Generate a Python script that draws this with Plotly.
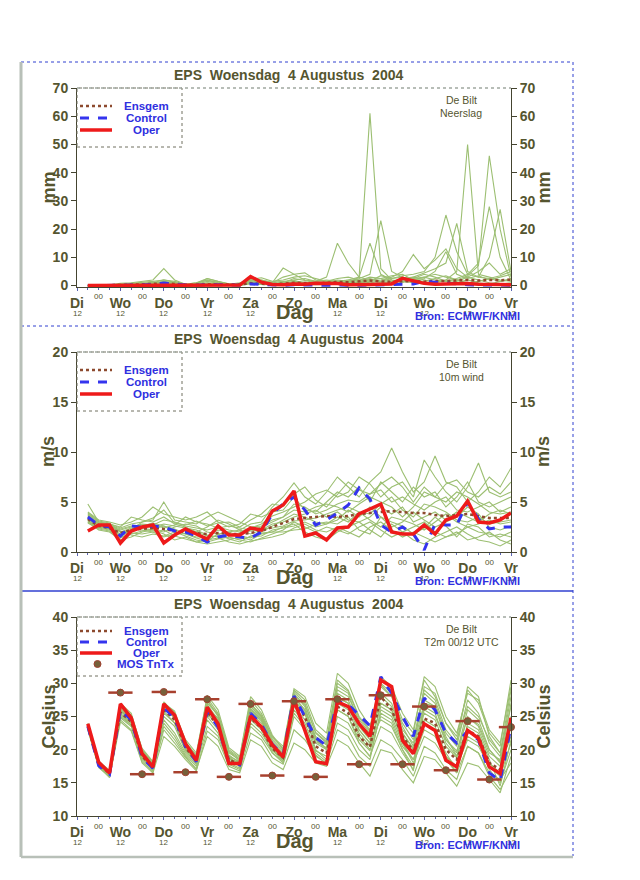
import plotly.graph_objects as go

# forecast steps: 6-hourly, Di 18 UTC .. Vr 12 UTC, x in days after Di 12 UTC
steps_h = list(range(6, 241, 6))
t = [h / 24 for h in steps_h]

day_names = ["Di", "Wo", "Do", "Vr", "Za", "Zo", "Ma", "Di", "Wo", "Do", "Vr"]

# ---------------- Neerslag (mm) ----------------
prec_ensgem = [0, 0, 0.1, 0.2, 0.3, 0.4, 0.5, 0.8, 0.6, 0.3, 0.3, 0.5, 0.4, 0.3, 0.4, 0.8,
               0.6, 0.5, 0.7, 1.0, 0.9, 0.8, 1.0, 1.3, 1.2, 1.5, 1.8, 1.5, 1.3, 1.5, 1.6, 1.4,
               1.7, 1.6, 1.8, 2.0, 1.8, 2.0, 1.9, 2.1]
prec_control = [0, 0, 0, 0, 0, 0.2, 0.4, 0.9, 0.6, 0.2, 0.1, 0.4, 0.3, 0.1, 0.1, 0.6,
                0.4, 0.2, 0.1, 0.3, 0.2, 0.1, 0.1, 0.2, 0.1, 0.1, 0.2, 0.3, 0.2, 0.5, 0.6, 1.5,
                1.2, 0.8, 0.5, 0.3, 0.2, 0.3, 0.2, 0.1]
prec_oper = [0, 0, 0, 0, 0, 0.1, 0.2, 0.3, 0.1, 0, 0.1, 0.3, 0.2, 0.1, 0.2, 3.2,
             1.2, 0.4, 0.3, 0.6, 0.5, 0.8, 0.9, 0.7, 0.3, 0.2, 0.4, 0.5, 0.6, 2.6, 1.8, 0.8,
             0.5, 0.6, 0.4, 0.7, 0.5, 0.3, 0.4, 0.3]
prec_members = [
    [0, 0, 0, 0, 0, 0.1, 0.3, 0.6, 0.3, 0, 0, 0.2, 0.1, 0, 0, 0.9, 0.6, 0.3, 0.5, 1.2,
     1.0, 1.5, 2.0, 1.5, 1.0, 3.0, 61.0, 6.0, 2.0, 1.5, 1.0, 0.6, 1.0, 2.0, 1.5, 3.0, 2.0, 1.0, 0.5, 1.0],
    [0, 0, 0, 0.2, 0.4, 0.3, 0.8, 1.5, 1.0, 0.2, 0.4, 1.0, 0.6, 0.2, 0.3, 2.0, 1.5, 0.8, 1.2, 2.0,
     2.5, 1.5, 1.0, 2.0, 1.5, 2.5, 4.0, 23.0, 5.0, 3.0, 2.0, 1.5, 2.5, 3.5, 2.0, 1.0, 1.5, 2.5, 1.5, 2.0],
    [0, 0, 0, 0, 0.2, 0.5, 1.0, 2.0, 1.2, 0.3, 0.8, 2.0, 1.0, 0.4, 0.5, 1.5, 2.0, 1.0, 3.0, 4.0,
     2.0, 1.5, 3.0, 15.0, 8.0, 3.0, 15.0, 4.0, 2.0, 1.0, 2.5, 4.0, 3.0, 1.5, 1.0, 2.0, 1.0, 0.5, 1.5, 2.5],
    [0, 0, 0.1, 0.3, 0.5, 0.8, 1.2, 1.0, 0.5, 0.2, 0.5, 1.5, 0.8, 0.3, 0.2, 1.0, 0.8, 0.5, 1.0, 2.5,
     1.8, 1.0, 0.8, 1.2, 2.0, 3.0, 2.0, 1.0, 1.5, 2.5, 3.0, 2.0, 1.0, 2.0, 5.0, 50.0, 4.0, 3.0, 2.0, 1.5],
    [0, 0, 0, 0.1, 0.2, 0.2, 0.5, 1.2, 0.8, 0.1, 0.2, 0.8, 0.5, 0.1, 0.1, 1.8, 1.0, 0.3, 0.6, 1.5,
     1.2, 0.6, 0.5, 1.0, 0.8, 1.2, 2.0, 2.5, 3.5, 4.0, 2.0, 3.0, 4.0, 3.0, 2.0, 3.5, 7.0, 46.0, 20.0, 3.0],
    [0, 0, 0, 0, 0.1, 0.3, 0.6, 0.8, 0.4, 0.1, 0.1, 0.6, 0.3, 0.2, 0.3, 1.2, 0.8, 0.4, 0.8, 1.0,
     0.6, 0.4, 0.6, 0.8, 1.0, 1.5, 1.0, 1.5, 2.5, 3.5, 4.0, 5.0, 10.0, 25.0, 12.0, 4.0, 8.0, 28.0, 10.0, 2.0],
    [0, 0, 0.2, 0.5, 0.8, 1.0, 1.5, 2.0, 1.5, 0.5, 1.0, 1.8, 1.2, 0.6, 0.8, 2.5, 2.0, 1.2, 1.5, 1.8,
     1.0, 0.8, 1.2, 1.5, 2.0, 1.8, 3.0, 2.5, 1.5, 2.0, 3.0, 4.5, 6.0, 8.0, 22.0, 5.0, 3.0, 10.0, 27.0, 5.0],
    [0, 0, 0, 0, 0, 0.1, 0.2, 0.4, 0.2, 0, 0.1, 0.4, 0.2, 0.1, 0.1, 0.6, 0.4, 0.2, 0.3, 0.6,
     0.5, 0.3, 0.4, 0.6, 0.8, 1.0, 1.5, 2.0, 3.0, 5.0, 11.0, 6.0, 9.0, 13.0, 6.0, 3.0, 5.0, 8.0, 4.0, 6.0],
    [0, 0, 0.3, 0.8, 1.0, 1.5, 2.0, 6.0, 2.0, 0.5, 1.0, 2.5, 1.5, 0.5, 1.0, 2.0, 1.5, 1.0, 6.2, 4.0,
     4.5, 2.0, 1.5, 2.5, 3.0, 2.0, 1.5, 3.5, 2.5, 3.0, 2.0, 2.5, 5.0, 12.0, 4.0, 2.5, 3.5, 2.0, 3.0, 4.0],
    [0, 0, 0, 0.4, 0.6, 0.5, 0.8, 1.2, 0.8, 0.4, 0.6, 2.5, 1.5, 0.6, 0.8, 2.2, 2.8, 1.5, 2.0, 3.0,
     3.5, 2.5, 1.5, 1.0, 1.5, 2.0, 2.5, 1.5, 1.0, 1.5, 2.5, 3.0, 2.0, 1.5, 2.5, 4.0, 3.0, 2.5, 3.5, 5.0],
]

# ---------------- 10m wind (m/s) ----------------
wind_ensgem = [3.3, 2.6, 2.4, 1.9, 2.2, 2.3, 2.4, 2.3, 2.1, 2.0, 1.9, 1.8, 1.9, 1.8, 1.8, 1.9,
               2.1, 2.5, 2.9, 3.3, 3.4, 3.5, 3.6, 3.5, 3.6, 3.8, 3.9, 4.0, 4.1, 4.0, 3.9, 3.9,
               3.7, 3.6, 3.7, 3.8, 3.6, 3.4, 3.4, 3.4]
wind_control = [3.5, 2.7, 2.5, 1.6, 2.6, 2.5, 2.6, 2.5, 2.1, 2.0, 1.6, 1.0, 1.5, 1.7, 1.5, 1.4,
                2.0, 3.8, 4.8, 5.5, 4.2, 2.7, 3.2, 3.9, 4.7, 6.4, 5.3, 2.7, 2.0, 2.5, 1.8, 0.2,
                2.8, 2.7, 2.7, 5.0, 3.3, 2.3, 2.5, 2.5]
wind_oper = [2.1, 2.7, 2.7, 0.9, 2.1, 2.5, 2.7, 0.9, 1.7, 2.3, 1.8, 1.3, 2.6, 1.7, 1.7, 2.4,
             2.2, 4.1, 4.7, 6.1, 1.6, 1.9, 1.2, 2.4, 2.5, 3.8, 4.3, 4.8, 2.0, 1.8, 1.8, 2.7,
             1.8, 3.2, 3.6, 5.1, 3.0, 2.9, 3.2, 3.9]
wind_members = [
    [4.8, 3.0, 2.8, 2.5, 3.5, 3.2, 3.0, 3.5, 2.8, 2.5, 2.0, 2.5, 3.2, 2.8, 2.2, 2.8, 3.0, 4.5, 5.5, 6.9,
     5.5, 4.8, 6.0, 7.5, 6.5, 5.5, 7.0, 8.0, 10.4, 8.0, 6.0, 7.0, 9.6, 7.0, 6.5, 5.0, 6.0, 7.5, 6.5, 8.4],
    [3.0, 2.2, 2.0, 1.2, 1.5, 2.0, 2.2, 1.8, 1.2, 1.5, 1.0, 0.8, 1.0, 1.2, 1.5, 1.2, 1.8, 2.0, 2.5, 2.8,
     2.0, 1.5, 1.2, 2.0, 2.5, 3.0, 2.2, 1.5, 2.8, 2.0, 1.2, 0.8, 1.5, 2.0, 2.5, 1.8, 1.2, 1.0, 0.6, 1.2],
    [3.6, 2.8, 2.6, 2.2, 2.5, 2.8, 2.7, 3.2, 3.0, 2.6, 2.4, 2.2, 2.5, 2.2, 2.0, 2.4, 2.8, 3.6, 4.0, 4.5,
     5.0, 5.8, 6.2, 5.5, 6.0, 7.5, 6.8, 5.5, 6.5, 7.0, 5.5, 9.2, 7.5, 6.0, 5.0, 6.5, 8.9, 6.0, 5.5, 6.0],
    [3.2, 2.5, 2.3, 1.6, 2.0, 2.6, 2.9, 2.6, 2.3, 1.8, 1.5, 1.5, 1.6, 1.4, 1.3, 1.5, 1.6, 2.2, 2.4, 2.6,
     3.0, 2.5, 2.8, 3.5, 3.0, 4.0, 3.2, 2.5, 3.5, 3.2, 2.8, 2.2, 3.0, 3.8, 3.0, 2.5, 2.8, 3.2, 2.8, 3.0],
    [4.0, 3.2, 3.0, 2.7, 3.0, 3.5, 4.5, 3.8, 3.5, 3.2, 3.5, 4.0, 3.0, 2.5, 2.8, 3.8, 3.5, 4.0, 4.2, 5.5,
     4.2, 4.0, 5.0, 6.0, 5.5, 6.5, 5.0, 7.0, 6.0, 5.0, 6.5, 5.5, 6.0, 4.5, 5.5, 7.0, 5.0, 4.5, 5.0, 5.5],
    [3.4, 2.7, 2.4, 1.8, 2.3, 2.4, 2.2, 2.0, 2.5, 2.8, 2.6, 2.0, 1.8, 2.0, 1.6, 1.4, 2.0, 2.6, 3.2, 3.8,
     3.5, 3.0, 2.8, 3.2, 4.2, 3.5, 4.5, 3.5, 2.5, 3.0, 4.0, 3.2, 2.5, 3.0, 3.5, 4.5, 3.8, 2.5, 2.2, 2.6],
    [3.1, 2.4, 2.2, 1.5, 1.8, 2.1, 2.3, 2.6, 2.0, 1.6, 1.2, 1.0, 1.3, 1.5, 1.2, 1.0, 1.4, 1.8, 2.2, 3.0,
     2.5, 2.0, 2.5, 2.2, 1.8, 2.5, 3.0, 2.2, 1.5, 2.0, 2.5, 3.0, 2.0, 1.5, 1.8, 2.5, 2.0, 1.8, 1.5, 2.0],
    [3.8, 3.0, 2.8, 2.4, 2.8, 3.0, 3.2, 5.0, 3.2, 3.0, 2.8, 3.5, 4.0, 3.5, 3.0, 2.5, 2.6, 3.2, 3.5, 4.8,
     4.5, 3.8, 4.2, 4.8, 5.2, 5.0, 5.8, 6.2, 5.0, 5.5, 4.8, 4.2, 5.0, 5.5, 4.2, 4.0, 4.5, 5.0, 4.0, 4.5],
    [3.5, 2.8, 2.5, 2.0, 2.4, 2.2, 2.0, 1.5, 1.8, 2.2, 2.0, 1.6, 2.2, 2.0, 2.2, 1.8, 2.2, 2.8, 3.0, 3.5,
     3.8, 4.2, 3.5, 4.0, 3.2, 3.0, 3.5, 4.5, 3.8, 4.5, 3.0, 3.5, 4.0, 3.2, 4.0, 3.5, 3.0, 3.8, 4.2, 3.8],
    [3.3, 2.6, 2.3, 1.7, 2.1, 2.5, 2.5, 2.8, 2.6, 2.4, 2.2, 1.7, 1.5, 1.7, 1.9, 2.1, 2.3, 2.4, 2.6, 3.1,
     3.2, 3.4, 3.8, 4.2, 4.5, 4.0, 3.8, 4.8, 5.5, 4.2, 3.5, 4.8, 4.5, 4.0, 3.2, 3.0, 3.5, 2.8, 3.0, 3.2],
    [3.7, 2.9, 2.7, 2.3, 2.6, 2.7, 2.8, 2.4, 2.7, 3.5, 3.0, 2.8, 2.4, 2.6, 2.4, 2.2, 2.5, 3.0, 3.5, 4.2,
     4.0, 4.5, 4.8, 4.5, 4.0, 4.8, 5.5, 5.0, 4.5, 3.5, 4.5, 6.0, 5.5, 5.0, 6.0, 5.5, 4.8, 4.0, 3.8, 4.0],
    [2.9, 2.3, 2.1, 1.4, 1.9, 1.8, 2.0, 2.2, 1.6, 1.3, 1.0, 1.2, 1.4, 1.0, 0.8, 1.1, 1.3, 1.5, 1.8, 2.4,
     2.8, 2.2, 2.0, 2.5, 2.0, 1.5, 2.5, 3.0, 2.2, 1.5, 2.0, 1.5, 1.0, 1.5, 2.0, 1.2, 1.5, 2.0, 1.2, 0.8],
    [3.9, 3.1, 2.9, 2.0, 2.2, 3.0, 3.4, 4.2, 2.9, 2.7, 3.1, 2.6, 2.9, 3.0, 2.5, 3.2, 3.8, 4.8, 4.6, 5.8,
     6.5, 5.2, 4.5, 5.8, 7.0, 6.2, 5.8, 6.8, 7.5, 6.5, 5.0, 6.5, 5.5, 6.8, 7.2, 6.0, 5.5, 6.5, 5.8, 7.0],
    [3.0, 2.4, 2.6, 2.1, 1.7, 1.5, 1.8, 1.6, 2.0, 1.8, 1.4, 1.1, 1.8, 1.3, 1.0, 1.6, 1.9, 2.0, 2.0, 2.2,
     2.3, 2.8, 3.0, 2.8, 3.5, 2.2, 1.8, 3.5, 3.0, 2.6, 1.8, 2.4, 3.5, 2.6, 1.5, 2.8, 2.5, 1.5, 1.8, 1.5],
]

# ---------------- T2m (Celsius) ----------------
temp_ensgem = [23.5, 17.8, 16.4, 25.6, 24.2, 19.0, 17.3, 26.0, 24.5, 20.3, 18.3, 25.7, 23.5, 18.5, 17.8, 24.8,
               23.2, 20.2, 18.8, 27.2, 25.0, 20.5, 19.5, 26.5, 25.5, 22.0, 20.4, 28.0, 26.0, 22.0, 19.8, 24.7,
               24.0, 20.0, 18.5, 22.9, 22.0, 18.0, 17.0, 23.5]
temp_control = [23.5, 17.6, 16.3, 26.0, 24.5, 18.8, 17.2, 26.3, 24.8, 20.5, 18.2, 25.8, 23.4, 18.0, 17.7, 25.5,
                23.8, 20.8, 19.2, 28.1, 25.0, 21.8, 20.6, 27.3, 26.8, 25.2, 23.6, 31.0, 28.5, 25.0, 22.0, 27.8,
                26.0, 22.5, 21.0, 22.8, 21.5, 16.5, 15.3, 23.5]
temp_oper = [23.9, 18.1, 16.5, 26.9, 24.8, 19.4, 17.4, 26.9, 25.2, 20.9, 18.4, 26.4, 23.9, 17.9, 17.9, 25.1,
             23.4, 20.7, 18.9, 27.5, 22.9, 18.2, 17.9, 27.2, 26.5, 23.9, 22.0, 30.5, 29.5, 21.4, 19.4, 23.9,
             22.9, 18.4, 17.4, 22.9, 21.7, 17.4, 16.4, 24.8]
temp_members = [
    [24.0, 18.3, 16.8, 27.0, 25.5, 20.0, 18.0, 27.2, 25.5, 21.5, 19.5, 27.8, 25.5, 20.0, 18.8, 27.5, 25.5, 22.0, 20.5, 29.0,
     27.5, 23.0, 21.5, 30.5, 29.0, 25.0, 23.0, 31.0, 29.5, 25.5, 23.0, 30.5, 28.0, 24.0, 22.0, 29.0, 27.0, 22.5, 20.5, 30.5],
    [23.0, 17.3, 16.0, 24.5, 23.0, 18.2, 16.7, 23.5, 21.5, 19.0, 17.0, 22.0, 20.5, 17.0, 16.5, 21.5, 20.5, 18.0, 17.0, 21.0,
     20.0, 18.0, 17.5, 21.5, 20.5, 18.0, 16.0, 20.0, 19.5, 17.0, 15.0, 19.0, 18.5, 16.5, 14.5, 18.0, 17.5, 15.5, 13.5, 19.0],
    [23.6, 17.6, 16.2, 26.0, 24.5, 19.5, 17.5, 26.5, 25.0, 20.8, 18.5, 26.8, 24.5, 19.2, 18.0, 26.0, 24.5, 21.0, 19.3, 28.5,
     26.5, 21.5, 20.0, 28.0, 27.0, 23.0, 21.0, 29.5, 28.0, 23.5, 20.5, 27.0, 26.5, 21.5, 19.5, 26.0, 24.5, 20.0, 18.0, 27.0],
    [23.3, 17.9, 16.5, 25.2, 23.8, 18.8, 17.0, 25.0, 23.5, 19.8, 18.0, 24.5, 22.5, 18.0, 17.2, 23.5, 22.0, 19.5, 18.3, 26.0,
     24.0, 19.8, 19.0, 25.0, 24.0, 21.0, 19.0, 25.5, 24.5, 20.5, 18.5, 23.0, 22.0, 19.0, 17.5, 21.5, 20.5, 17.5, 16.0, 21.0],
    [23.8, 18.0, 16.6, 26.5, 25.0, 19.8, 17.8, 26.8, 25.2, 21.0, 18.8, 27.5, 25.0, 19.5, 18.5, 27.0, 25.0, 21.5, 19.8, 28.8,
     27.0, 22.5, 21.0, 29.5, 28.5, 24.0, 22.0, 28.0, 26.5, 23.0, 21.0, 28.5, 27.0, 22.5, 20.5, 27.5, 25.5, 21.0, 19.0, 28.0],
    [23.4, 17.7, 16.3, 25.8, 24.3, 19.2, 17.4, 26.3, 24.8, 20.5, 18.0, 25.0, 23.0, 18.3, 17.5, 25.5, 24.0, 20.5, 19.0, 27.5,
     25.5, 20.0, 18.5, 24.0, 23.0, 20.0, 18.5, 26.0, 25.0, 21.0, 18.0, 22.0, 21.0, 18.5, 16.5, 24.0, 23.0, 19.0, 17.5, 22.0],
    [23.7, 18.1, 16.7, 25.5, 24.0, 19.0, 17.2, 24.5, 22.5, 19.5, 17.8, 26.0, 24.0, 18.8, 17.9, 24.0, 22.5, 19.8, 18.5, 26.5,
     24.5, 21.0, 20.0, 27.5, 26.5, 22.5, 20.5, 26.5, 25.5, 22.0, 19.5, 25.5, 24.5, 20.5, 18.8, 23.0, 21.5, 18.0, 16.5, 23.5],
    [23.2, 17.5, 16.1, 24.8, 23.5, 18.5, 16.9, 25.5, 24.0, 20.0, 18.2, 26.5, 24.2, 18.6, 17.6, 25.0, 23.5, 20.0, 18.6, 27.0,
     25.5, 21.2, 20.3, 28.5, 27.5, 23.5, 21.5, 24.5, 23.5, 20.0, 17.5, 26.5, 25.5, 21.0, 19.0, 25.0, 23.5, 19.5, 18.5, 25.0],
    [23.5, 17.8, 16.4, 26.2, 24.6, 19.4, 17.6, 26.6, 25.0, 20.7, 18.6, 27.0, 25.2, 19.7, 18.3, 26.5, 24.8, 20.8, 19.2, 28.0,
     26.0, 22.0, 20.7, 26.0, 25.0, 21.5, 19.8, 27.0, 26.0, 21.0, 18.5, 24.0, 23.0, 19.5, 17.0, 22.0, 21.0, 17.0, 15.0, 20.0],
    [23.9, 18.2, 16.9, 26.8, 25.2, 20.2, 18.2, 27.0, 25.8, 21.2, 19.0, 28.2, 26.0, 20.3, 19.0, 28.0, 26.0, 22.2, 20.0, 29.2,
     28.0, 24.0, 22.5, 31.5, 30.0, 26.0, 23.5, 30.0, 28.5, 24.5, 22.5, 31.0, 29.5, 25.0, 22.5, 28.5, 27.5, 23.0, 21.0, 29.5],
    [23.1, 17.4, 15.8, 24.2, 22.8, 18.0, 16.5, 22.0, 20.5, 18.5, 16.8, 22.8, 21.5, 17.5, 16.8, 22.5, 21.5, 18.8, 17.8, 23.0,
     21.5, 19.0, 18.0, 23.0, 22.0, 19.0, 17.5, 21.5, 20.5, 18.5, 16.0, 20.5, 19.5, 17.0, 15.5, 20.5, 19.5, 16.0, 14.0, 17.0],
    [23.6, 17.9, 16.5, 26.4, 24.9, 19.6, 17.7, 25.8, 24.0, 20.2, 18.4, 26.2, 24.8, 19.0, 18.2, 26.8, 25.0, 21.2, 19.5, 27.8,
     26.0, 21.8, 20.8, 29.0, 28.0, 24.5, 22.5, 27.0, 26.0, 22.5, 20.0, 29.5, 28.5, 24.0, 21.5, 26.5, 25.0, 21.5, 19.5, 26.5],
    [23.4, 17.6, 16.2, 25.0, 23.7, 18.7, 17.1, 24.0, 22.0, 19.2, 17.5, 23.5, 22.0, 17.8, 17.0, 24.5, 23.0, 19.5, 18.0, 25.0,
     23.0, 19.5, 18.2, 26.0, 25.0, 21.0, 19.0, 23.5, 22.5, 19.5, 17.0, 24.5, 23.5, 19.0, 16.5, 20.5, 19.5, 16.5, 15.5, 18.0],
    [23.5, 18.0, 16.6, 25.9, 24.4, 19.3, 17.5, 26.4, 24.7, 20.6, 18.6, 25.5, 23.8, 18.6, 17.9, 25.8, 24.3, 20.6, 19.0, 27.4,
     25.8, 21.5, 20.2, 27.8, 27.0, 23.0, 21.0, 28.5, 27.0, 22.5, 20.2, 26.0, 25.0, 21.5, 19.8, 24.8, 23.8, 20.0, 18.2, 24.5],
    [23.7, 17.7, 16.0, 25.3, 24.1, 18.9, 16.8, 23.0, 21.0, 18.8, 17.1, 25.2, 24.0, 19.0, 17.4, 26.2, 24.6, 20.3, 18.2, 25.5,
     23.5, 19.2, 17.8, 27.0, 26.0, 22.0, 20.0, 25.0, 24.0, 20.0, 16.8, 27.5, 26.5, 22.0, 19.0, 23.5, 22.5, 18.5, 14.5, 21.5],
    [23.8, 17.9, 16.7, 26.6, 25.1, 19.9, 18.0, 27.1, 25.4, 21.1, 19.2, 27.3, 25.3, 19.8, 18.6, 26.9, 25.2, 21.8, 20.2, 28.3,
     26.8, 22.6, 21.2, 30.0, 28.8, 24.8, 22.8, 29.8, 28.0, 24.0, 21.5, 29.0, 27.5, 23.0, 21.0, 29.5, 28.0, 22.0, 19.5, 29.0],
]
# MOS Tn/Tx (days after Di 12 UTC)
mos_t = [1.0, 1.5, 2.0, 2.5, 3.0, 3.5, 4.0, 4.5, 5.0, 5.5, 6.0, 6.5, 7.0, 7.5, 8.0, 8.5, 9.0, 9.5, 10.0]
mos_v = [28.6, 16.3, 28.7, 16.6, 27.6, 15.9, 26.9, 16.1, 27.3, 15.9, 27.6, 17.8, 28.2, 17.8, 26.5, 16.9, 24.3, 15.5, 23.4]

W, H = 640, 880
OFF = 8  # the page body margin shifts the figure by 8 px
FONT = "Liberation Sans, Arial, sans-serif"
OLIVE = "#55552f"
BLUE_TXT = "#2f2fe0"
GREEN = "#9cbf72"
ENS_C = "#8d4a2e"
CTRL_C = "#3434ee"
OPER_C = "#ee1a1a"


def px(x):
    return (x - OFF) / W


def py(y):
    return 1 - (y - OFF) / H


# pixel geometry of the three panels
panels = [
    dict(top=88, bottom=287, box=62, members=prec_members, ens=prec_ensgem, ctrl=prec_control,
         oper=prec_oper, rng=[-0.5, 70], tv=list(range(0, 71, 10)), unit="mm", sub="Neerslag"),
    dict(top=352, bottom=552, box=326, members=wind_members, ens=wind_ensgem, ctrl=wind_control,
         oper=wind_oper, rng=[0, 20], tv=list(range(0, 21, 5)), unit="m/s", sub="10m wind"),
    dict(top=617, bottom=816, box=591, members=temp_members, ens=temp_ensgem, ctrl=temp_control,
         oper=temp_oper, rng=[10, 40], tv=list(range(10, 41, 5)), unit="Celsius", sub="T2m 00/12 UTC"),
]

fig = go.Figure()
shapes = []
annotations = []
layout = {}

for i, p in enumerate(panels, start=1):
    xa = "x" if i == 1 else f"x{i}"
    ya = "y" if i == 1 else f"y{2 * i - 1}"
    yb = f"y{2 * i}"
    xkey = "xaxis" if i == 1 else f"xaxis{i}"
    yakey = "yaxis" if i == 1 else f"yaxis{2 * i - 1}"
    ybkey = f"yaxis{2 * i}"

    for m in p["members"]:
        fig.add_trace(go.Scatter(x=t, y=m, mode="lines", line=dict(color=GREEN, width=1.1),
                                 xaxis=xa, yaxis=ya, showlegend=False, hoverinfo="skip"))
    fig.add_trace(go.Scatter(x=t, y=p["ens"], mode="lines", line=dict(color=ENS_C, width=2.5, dash="dot"),
                             xaxis=xa, yaxis=ya, showlegend=False))
    fig.add_trace(go.Scatter(x=t, y=p["ctrl"], mode="lines", line=dict(color=CTRL_C, width=3, dash="dash"),
                             xaxis=xa, yaxis=ya, showlegend=False))
    fig.add_trace(go.Scatter(x=t, y=p["oper"], mode="lines", line=dict(color=OPER_C, width=3.5),
                             xaxis=xa, yaxis=ya, showlegend=False))
    # dummy trace so the right-hand axis is drawn
    fig.add_trace(go.Scatter(x=[None], y=[None], xaxis=xa, yaxis=yb, showlegend=False))

    tickfont = dict(family=FONT, size=14, color=OLIVE, weight="bold")
    yax = dict(domain=[py(p["bottom"]), py(p["top"])], range=p["rng"], tickvals=p["tv"],
               showline=True, linecolor="#444430", linewidth=1, ticks="outside", ticklen=5,
               tickcolor="#444430", tickfont=tickfont, showgrid=False, zeroline=False,
               anchor=xa, automargin=False)
    layout[yakey] = yax
    layout[ybkey] = dict(yax, side="right", overlaying=ya)
    layout[xkey] = dict(domain=[px(77), px(511)], range=[0, 10], anchor=ya, automargin=False,
                        tickvals=list(range(11)), ticktext=day_names, tickfont=tickfont,
                        ticks="outside", ticklen=3, tickcolor="#5a64b0", showline=True,
                        linecolor="#444430", showgrid=False, zeroline=False,
                        minor=dict(dtick=0.25, ticks="outside", ticklen=2, tickcolor="#5a64b0"))

    top, bot = p["top"], p["bottom"]
    # small "00" and "12" hour labels (the Zo one sits under "Dag")
    for k in range(10):
        annotations.append(dict(x=k + 0.5, y=py(bot + 10), xref=xa, yref="paper", text="00",
                                font=dict(family=FONT, size=8, color=OLIVE)))
    for k in range(11):
        if k == 5:
            continue
        annotations.append(dict(x=k, y=py(bot + 26), xref=xa, yref="paper", text="12",
                                font=dict(family=FONT, size=8, color=OLIVE)))

    annotations += [
        dict(x=px(288), y=py(p["box"] + 13), text="EPS\u00a0\u00a0Woensdag\u00a0\u00a04\u00a0Augustus\u00a0\u00a02004",
             font=dict(family=FONT, size=14, color=OLIVE, weight="bold")),
        dict(x=px(48), y=py((top + bot) / 2), text=p["unit"], textangle=-90,
             font=dict(family=FONT, size=18, color=OLIVE, weight="bold")),
        dict(x=px(543), y=py((top + bot) / 2), text=p["unit"], textangle=-90,
             font=dict(family=FONT, size=18, color=OLIVE, weight="bold")),
        dict(x=px(295), y=py(bot + 25), text="Dag",
             font=dict(family=FONT, size=20, color=OLIVE, weight="bold")),
        dict(x=px(467), y=py(bot + 29), text="Bron: ECMWF/KNMI",
             font=dict(family=FONT, size=11, color=BLUE_TXT, weight="bold")),
        dict(x=px(461), y=py(top + 12), text="De Bilt", font=dict(family=FONT, size=10.5, color=OLIVE)),
        dict(x=px(461), y=py(top + 25), text=p["sub"], font=dict(family=FONT, size=10.5, color=OLIVE)),
    ]

    # legend box and dotted top border of the plot area
    shapes.append(dict(type="rect", xref="paper", yref="paper", x0=px(77), x1=px(182),
                       y0=py(top + 59), y1=py(top), line=dict(color="#707060", width=1, dash="dot")))
    shapes.append(dict(type="line", xref="paper", yref="paper", x0=px(77), x1=px(511),
                       y0=py(top), y1=py(top), line=dict(color="#a0a8a0", width=1.5, dash="dot")))
    if i < 3:
        rows = [18, 30, 42]
    else:
        rows = [14, 25, 36, 47]
    styles = [("Ensgem", ENS_C, "dot", 2.5), ("Control", CTRL_C, "dash", 3), ("Oper", OPER_C, "solid", 3.5)]
    for (name, col, dash, w), dy in zip(styles, rows):
        shapes.append(dict(type="line", xref="paper", yref="paper", x0=px(80), x1=px(112),
                           y0=py(top + dy), y1=py(top + dy), line=dict(color=col, width=w, dash=dash)))
        annotations.append(dict(x=px(146), y=py(top + dy), text=name,
                                font=dict(family=FONT, size=11.5, color=BLUE_TXT, weight="bold")))
    if i == 3:
        dy = rows[3]
        shapes.append(dict(type="circle", xref="paper", yref="paper", x0=px(94), x1=px(101),
                           y0=py(top + dy + 3.5), y1=py(top + dy - 3.5),
                           fillcolor="#76603a", line=dict(color="#a04030", width=1)))
        annotations.append(dict(x=px(145), y=py(top + dy), text="MOS TnTx",
                                font=dict(family=FONT, size=11.5, color=BLUE_TXT, weight="bold")))

# MOS Tn/Tx markers on the temperature panel
fig.add_trace(go.Scatter(x=mos_t, y=mos_v, mode="markers", xaxis="x3", yaxis="y5",
                         marker=dict(size=7, color="#76603a", line=dict(color="#a04030", width=1)),
                         error_x=dict(type="constant", value=0.28, thickness=2.5, width=0, color="#a8402e"),
                         showlegend=False, cliponaxis=False))

for a in annotations:
    a.setdefault("xref", "paper")
    a.setdefault("yref", "paper")
    a["showarrow"] = False
    a["xanchor"] = "center"
    a["yanchor"] = "middle"

# panel frames
frame_blue = dict(color="#3040d0", width=1, dash="dot")
shapes += [
    dict(type="line", xref="paper", yref="paper", x0=px(21), x1=px(573), y0=py(62), y1=py(62), line=frame_blue),
    dict(type="line", xref="paper", yref="paper", x0=px(21), x1=px(573), y0=py(326), y1=py(326), line=frame_blue),
    dict(type="line", xref="paper", yref="paper", x0=px(21), x1=px(573), y0=py(591), y1=py(591),
         line=dict(color="#3040d0", width=1.5)),
    dict(type="line", xref="paper", yref="paper", x0=px(573), x1=px(573), y0=py(62), y1=py(856), line=frame_blue),
    dict(type="line", xref="paper", yref="paper", x0=px(21), x1=px(21), y0=py(62), y1=py(857),
         line=dict(color="#b8c0b8", width=3)),
    dict(type="line", xref="paper", yref="paper", x0=px(21), x1=px(573), y0=py(857), y1=py(857),
         line=dict(color="#b8c0b8", width=2.5)),
]

fig.update_layout(width=W, height=H, margin=dict(l=0, r=0, t=0, b=0, pad=0, autoexpand=False),
                  paper_bgcolor="white", plot_bgcolor="white", showlegend=False,
                  shapes=shapes, annotations=annotations, **layout)

fig.write_html("out.html")
